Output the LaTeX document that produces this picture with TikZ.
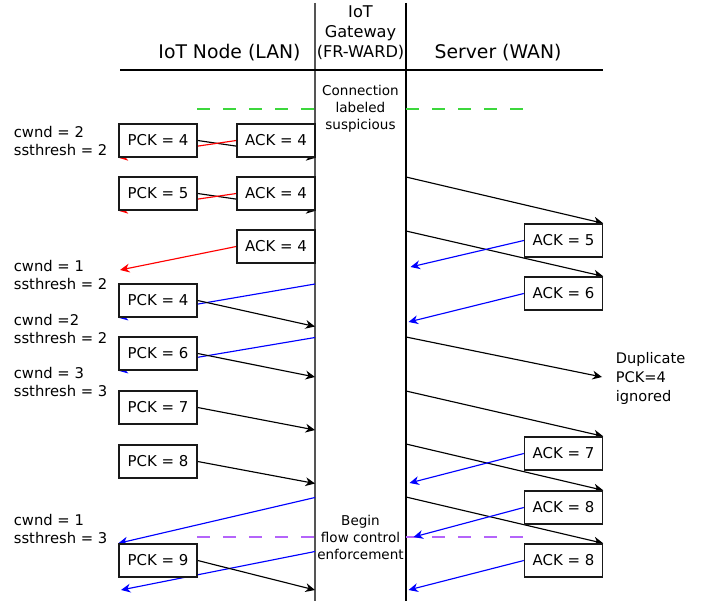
\documentclass[tikz,border=0pt]{standalone}
\usepackage{fontspec}
\setmainfont{DejaVu Sans}
\usetikzlibrary{arrows.meta,backgrounds}
\definecolor{R}{RGB}{255, 0, 0}
\definecolor{B}{RGB}{0, 0, 255}
\definecolor{G}{RGB}{60, 215, 60}
\definecolor{P}{RGB}{180, 100, 250}
\definecolor{L}{RGB}{85, 85, 85}

\tikzset{
  head/.style={inner sep=0pt, font=\fontsize{10.7}{13}\selectfont},
  gwhead/.style={align=center, inner sep=0pt, font=\fontsize{9.2}{11.4}\selectfont},
  gwnote/.style={align=center, inner sep=0pt, font=\fontsize{7.7}{9.7}\selectfont},
  cw/.style={anchor=west, align=left, inner sep=0pt, font=\fontsize{8.4}{10.5}\selectfont},
  pkt/.style={draw=black!90, fill=white, line width=0.8pt, minimum width=1.56cm,
    minimum height=0.66cm, inner sep=0pt, font=\fontsize{8.5}{10}\selectfont},
  msg/.style={line width=0.65pt, -{Stealth[length=5.4pt,width=5pt,inset=1.7pt]}},
  sep/.style={line width=0.9pt, dash pattern=on 7.4pt off 7.4pt}
}

\begin{document}
\begin{tikzpicture}
  \useasboundingbox (0,0) rectangle (14.04,-12.02);

  %# CABECERA
  \node[head] (hlan) at (4.59,-1.06) {IoT Node (LAN)};
  \node[gwhead] (hgw) at (7.21,-0.66) {IoT\\Gateway\\(FR-WARD)};
  \node[head] (hwan) at (9.96,-1.06) {Server (WAN)};
  \coordinate (hl) at (2.40,-1.40);
  \coordinate (hr) at (12.06,-1.40);
  \draw[black, line width=0.85pt] (hl) -- (hr);

  %# LINEAS DEL GATEWAY
  \coordinate (ltop) at (6.30,-0.06);
  \coordinate (lbot) at (6.30,-12.02);
  \coordinate (rtop) at (8.12,-0.06);
  \coordinate (rbot) at (8.12,-12.02);

  %# AVISOS DEL GATEWAY
  \node[gwnote] (susp) at (7.21,-2.18) {Connection\\labeled\\suspicious};
  \node[gwnote] (flow) at (7.21,-10.74) {Begin\\flow control\\enforcement};

  %# VENTANAS EN EL NODO
  \node[cw] (w1) at (0.27,-2.82) {cwnd = 2\\ssthresh = 2};
  \node[cw] (w2) at (0.27,-5.50) {cwnd = 1\\ssthresh = 2};
  \node[cw] (w3) at (0.27,-6.58) {cwnd =2\\ssthresh = 2};
  \node[cw] (w4) at (0.27,-7.64) {cwnd = 3\\ssthresh = 3};
  \node[cw] (w5) at (0.27,-10.58) {cwnd = 1\\ssthresh = 3};

  %# PAQUETES EN LA LAN
  \node[pkt] (p4a) at (3.16,-2.81) {PCK = 4};
  \node[pkt] (a4a) at (5.52,-2.81) {ACK = 4};
  \node[pkt] (p5) at (3.16,-3.87) {PCK = 5};
  \node[pkt] (a4b) at (5.52,-3.87) {ACK = 4};
  \node[pkt] (a4c) at (5.52,-4.93) {ACK = 4};
  \node[pkt] (p4b) at (3.16,-6.01) {PCK = 4};
  \node[pkt] (p6) at (3.16,-7.07) {PCK = 6};
  \node[pkt] (p7) at (3.16,-8.15) {PCK = 7};
  \node[pkt] (p8) at (3.16,-9.23) {PCK = 8};
  \node[pkt] (p9) at (3.16,-11.21) {PCK = 9};

  %# ACKS DEL SERVIDOR
  \node[pkt] (a5) at (11.27,-4.81) {ACK = 5};
  \node[pkt] (a6) at (11.27,-5.87) {ACK = 6};
  \node[pkt] (a7) at (11.27,-9.07) {ACK = 7};
  \node[pkt] (a8a) at (11.27,-10.15) {ACK = 8};
  \node[pkt] (a8b) at (11.27,-11.21) {ACK = 8};
  \node[cw, font=\fontsize{8.3}{10.8}\selectfont] (dupnote) at (12.31,-7.56) {Duplicate\\PCK=4\\ignored};

  %# PUNTOS SOBRE LAS LINEAS
  \coordinate (la1) at (6.30,-5.68);
  \coordinate (la2) at (6.30,-6.53);
  \coordinate (la3) at (6.30,-6.75);
  \coordinate (la4) at (6.30,-7.54);
  \coordinate (la5) at (6.30,-8.60);
  \coordinate (la6) at (6.30,-9.67);
  \coordinate (la7) at (6.30,-9.95);
  \coordinate (la8) at (6.30,-11.03);
  \coordinate (la9) at (6.30,-11.80);
  \coordinate (ea) at (2.40,-5.40);
  \coordinate (eb) at (2.42,-11.80);
  \coordinate (wa1) at (8.12,-3.54);
  \coordinate (wa2) at (8.12,-4.62);
  \coordinate (wa3) at (8.21,-5.34);
  \coordinate (wa4) at (8.17,-6.44);
  \coordinate (wa5) at (8.12,-6.74);
  \coordinate (dup) at (12.04,-7.54);
  \coordinate (wa6) at (8.12,-7.82);
  \coordinate (wa7) at (8.12,-8.88);
  \coordinate (wa8) at (8.19,-9.66);
  \coordinate (wa9) at (8.12,-9.94);
  \coordinate (wa10) at (8.27,-10.74);
  \coordinate (wa11) at (8.17,-11.80);

  \begin{pgfonlayer}{background}
    %# LINEAS DE VIDA Y SEPARADORES
    \draw[L, line width=1.1pt] (ltop) -- (lbot);
    \draw[black, line width=0.85pt] (rtop) -- (rbot);
    \draw[sep, G] (3.94,-2.18) -- (6.30,-2.18);
    \draw[sep, G] (8.12,-2.18) -- (10.48,-2.18);
    \draw[sep, P] (3.94,-10.74) -- (6.30,-10.74);
    \draw[sep, P] (8.12,-10.74) -- (10.48,-10.74);

    %# MENSAJES EN LA LAN
    \draw[msg] (p4a.east) -- (a4a.south east);
    \draw[msg, R] (a4a.west) -- (p4a.south west);
    \draw[msg] (p5.east) -- (a4b.south east);
    \draw[msg, R] (a4b.west) -- (p5.south west);
    \draw[msg, R] (a4c.west) -- (ea);
    \draw[msg, B] (la1) -- (p4b.south west);
    \draw[msg] (p4b.east) -- (la2);
    \draw[msg, B] (la3) -- (p6.south west);
    \draw[msg] (p6.east) -- (la4);
    \draw[msg] (p7.east) -- (la5);
    \draw[msg] (p8.east) -- (la6);
    \draw[msg, B] (la7) -- (p9.north west);
    \draw[msg, B] (la8) -- (eb);
    \draw[msg] (p9.east) -- (la9);

    %# MENSAJES EN LA WAN
    \draw[msg] (wa1) -- (a5.north east);
    \draw[msg] (wa2) -- (a6.north east);
    \draw[msg, B] (a5.west) -- (wa3);
    \draw[msg, B] (a6.west) -- (wa4);
    \draw[msg] (wa5) -- (dup);
    \draw[msg] (wa6) -- (a7.north east);
    \draw[msg] (wa7) -- (a8a.north east);
    \draw[msg, B] (a7.west) -- (wa8);
    \draw[msg] (wa9) -- (a8b.north east);
    \draw[msg, B] (a8a.west) -- (wa10);
    \draw[msg, B] (a8b.west) -- (wa11);
  \end{pgfonlayer}
\end{tikzpicture}
\end{document}
